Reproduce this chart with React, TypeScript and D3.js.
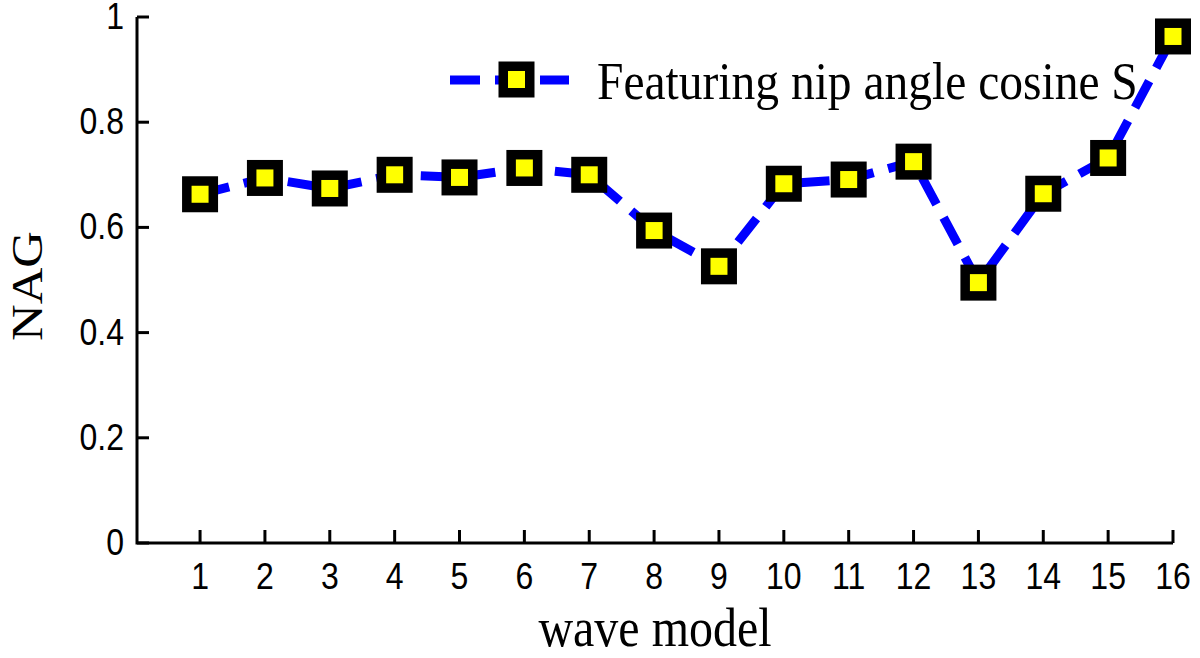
import { useMemo } from "react";
import * as d3 from "d3";

const models = [1, 2, 3, 4, 5, 6, 7, 8, 9, 10, 11, 12, 13, 14, 15, 16];
const nagValues = [
  0.663, 0.694, 0.674, 0.7, 0.695, 0.713, 0.7, 0.594, 0.526, 0.683, 0.691,
  0.725, 0.495, 0.664, 0.732, 0.963,
];
const yTicks = [0, 0.2, 0.4, 0.6, 0.8, 1];
const yTickLabels = ["0", "0.2", "0.4", "0.6", "0.8", "1"];
const seriesName = "Featuring nip angle cosine S";

const W = 1200;
const H = 658;
const STRETCH = 1.13;
const SERIF = "'Liberation Serif', 'Times New Roman', serif";
const SANS = "'Liberation Sans', Arial, sans-serif";

function Marker({ x, y }: { x: number; y: number }) {
  return (
    <g transform={`translate(${x},${y})`}>
      <rect x={-18} y={-18} width={36} height={36} fill="#000" />
      <rect x={-8.5} y={-8.5} width={17} height={17} fill="#ffff00" />
    </g>
  );
}

export default function App() {
  const x = useMemo(() => d3.scaleLinear().domain([0, 16]).range([135.2, 1173]), []);
  const y = useMemo(() => d3.scaleLinear().domain([0, 1]).range([543, 17]), []);

  const linePath = useMemo(() => {
    const line = d3
      .line<number>()
      .x((_, i) => x(models[i]))
      .y((d) => y(d));
    return line(nagValues) ?? "";
  }, [x, y]);

  const x0 = 137;
  const x1 = x(16);
  const y0 = y(0);

  return (
    <div style={{ position: "absolute", left: 0, top: 0 }}>
      <svg width={W} height={H} style={{ display: "block", background: "#fff" }}>
        {/* axes */}
        <path
          d={`M${x0},${y(1)}V${y0}H${x1}`}
          fill="none"
          stroke="#000"
          strokeWidth={3}
        />
        {yTicks.map((t, i) => (
          <g key={`y${t}`}>
            <line x1={x0} x2={x0 + 12} y1={y(t)} y2={y(t)} stroke="#000" strokeWidth={3} />
            <text
              transform={`translate(${x0 - 13},${y(t) + 12}) scale(1,${STRETCH})`}
              textAnchor="end"
              fontFamily={SANS}
              fontSize={32}
            >
              {yTickLabels[i]}
            </text>
          </g>
        ))}
        {models.map((m) => (
          <g key={`x${m}`}>
            <line x1={x(m)} x2={x(m)} y1={y0} y2={y0 - 13} stroke="#000" strokeWidth={3} />
            <text
              transform={`translate(${x(m)},${589}) scale(1,${STRETCH})`}
              textAnchor="middle"
              fontFamily={SANS}
              fontSize={32}
            >
              {m}
            </text>
          </g>
        ))}

        {/* axis titles */}
        <text
          transform={`translate(${(x0 + x1) / 2},646) scale(1,${STRETCH})`}
          textAnchor="middle"
          fontFamily={SERIF}
          fontSize={48}
        >
          wave model
        </text>
        <text
          transform={`translate(42,286) rotate(-90) scale(${STRETCH},1)`}
          textAnchor="middle"
          fontFamily={SERIF}
          fontSize={45}
        >
          NAG
        </text>

        {/* series */}
        <path
          d={linePath}
          fill="none"
          stroke="#0000ff"
          strokeWidth={9}
          strokeDasharray="30 15"
        />
        {nagValues.map((v, i) => (
          <Marker key={i} x={x(models[i])} y={y(v)} />
        ))}

        {/* legend */}
        <line
          x1={450}
          x2={569}
          y1={80}
          y2={80}
          stroke="#0000ff"
          strokeWidth={9}
          strokeDasharray="30 15"
        />
        <Marker x={516.5} y={79.5} />
        <text
          transform={`translate(597,99) scale(1,${STRETCH})`}
          fontFamily={SERIF}
          fontSize={47.5}
        >
          {seriesName}
        </text>
      </svg>
    </div>
  );
}
